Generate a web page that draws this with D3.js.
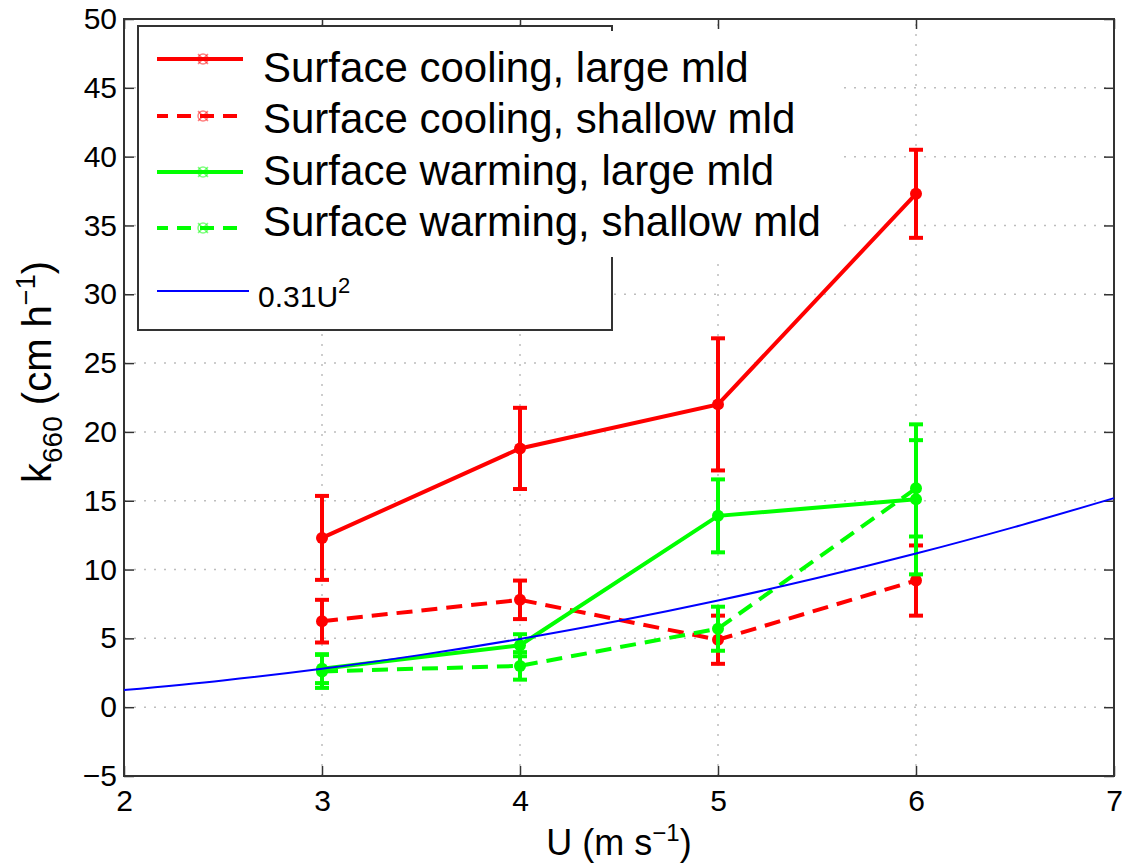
<!DOCTYPE html>
<html>
<head>
<meta charset="utf-8">
<script src="https://cdn.jsdelivr.net/npm/d3@7"></script>
<style>
  body { margin: 0; background: #fff; }
  text { font-family: "Liberation Sans", Arial, sans-serif; fill: #000; }
</style>
</head>
<body>
<div id="chart"></div>
<script>

// wind speed for the four experiments
var windSpeed = [3, 4, 5, 6];

var coolLarge = [12.3, 18.8, 22.0, 37.3];
var coolLargeErr = [3.05, 2.95, 4.8, 3.2];
var coolShallow = [6.25, 7.8, 4.9, 9.2];
var coolShallowErr = [1.55, 1.4, 1.75, 2.55];
var warmLarge = [2.8, 4.5, 13.9, 15.1];
var warmLargeErr = [1.05, 0.8, 2.65, 5.45];
var warmShallow = [2.6, 3.0, 5.7, 15.9];
var warmShallowErr = [1.2, 1.0, 1.6, 3.5];

// reference curve 0.31U^2
var curveU = [2, 2.5, 3, 3.5, 4, 4.5, 5, 5.5, 6, 6.5, 7];
var curveK = [1.24, 1.94, 2.79, 3.80, 4.96, 6.28, 7.75, 9.38, 11.16, 13.10, 15.19];

var xTicks = [2, 3, 4, 5, 6, 7];
var yTicks = [-5, 0, 5, 10, 15, 20, 25, 30, 35, 40, 45, 50];

var legendLabels = ["Surface cooling, large mld", "Surface cooling, shallow mld",
    "Surface warming, large mld", "Surface warming, shallow mld"];

var width = 1122, height = 865;
var plotLeft = 124, plotRight = 1114, plotTop = 19, plotBottom = 776;

var svg = d3.select("#chart").append("svg")
    .attr("width", width)
    .attr("height", height);

var x = d3.scaleLinear().domain([2, 7]).range([plotLeft, plotRight]);
var y = d3.scaleLinear().domain([-5, 50]).range([plotBottom, plotTop]);

// grid
var grid = svg.append("g").attr("class", "grid")
    .attr("stroke", "#bdbdbd")
    .attr("stroke-width", 1.5)
    .attr("stroke-dasharray", "2,8");
grid.selectAll("line.gx")
    .data(xTicks.slice(1, -1))
    .enter().append("line")
    .attr("x1", function (d) { return x(d); })
    .attr("x2", function (d) { return x(d); })
    .attr("y1", plotBottom)
    .attr("y2", plotTop);
grid.selectAll("line.gy")
    .data(yTicks.slice(1, -1))
    .enter().append("line")
    .attr("x1", plotLeft)
    .attr("x2", plotRight)
    .attr("y1", function (d) { return y(d); })
    .attr("y2", function (d) { return y(d); });

// axes, with inward ticks on all four sides
var fmt = function (d) { return d < 0 ? "\u2212" + Math.abs(d) : d; };
var axisStyle = function (g) {
    g.select(".domain").remove();
    g.selectAll(".tick line").attr("stroke", "#333").attr("stroke-width", 1.5);
    g.selectAll(".tick text").attr("font-size", 30).attr("fill", "#222")
        .attr("font-family", "Liberation Sans, Arial, sans-serif");
};

svg.append("g")
    .attr("transform", "translate(0," + plotBottom + ")")
    .call(d3.axisBottom(x).tickValues(xTicks).tickFormat(fmt).tickSizeInner(-10).tickPadding(14))
    .call(axisStyle);
svg.append("g")
    .attr("transform", "translate(0," + plotTop + ")")
    .call(d3.axisTop(x).tickValues(xTicks).tickFormat("").tickSizeInner(-10))
    .call(axisStyle);
svg.append("g")
    .attr("transform", "translate(" + plotLeft + ",0)")
    .call(d3.axisLeft(y).tickValues(yTicks).tickFormat(fmt).tickSizeInner(-10).tickPadding(7))
    .call(axisStyle);
svg.append("g")
    .attr("transform", "translate(" + plotRight + ",0)")
    .call(d3.axisRight(y).tickValues(yTicks).tickFormat("").tickSizeInner(-10))
    .call(axisStyle);

svg.append("rect")
    .attr("x", plotLeft)
    .attr("y", plotTop)
    .attr("width", plotRight - plotLeft)
    .attr("height", plotBottom - plotTop)
    .attr("fill", "none")
    .attr("stroke", "#333")
    .attr("stroke-width", 2);

// series
var series = [
    { values: coolLarge, err: coolLargeErr, color: "#ff0000", dash: null },
    { values: coolShallow, err: coolShallowErr, color: "#ff0000", dash: "16,9" },
    { values: warmLarge, err: warmLargeErr, color: "#00ff00", dash: null },
    { values: warmShallow, err: warmShallowErr, color: "#00ff00", dash: "16,9" }
];

var line = d3.line()
    .x(function (d) { return x(d[0]); })
    .y(function (d) { return y(d[1]); });

series.forEach(function (s) {
    var pts = windSpeed.map(function (u, i) { return [u, s.values[i], s.err[i]]; });
    var g = svg.append("g");

    g.append("path")
        .datum(pts)
        .attr("d", line)
        .attr("fill", "none")
        .attr("stroke", s.color)
        .attr("stroke-width", 4)
        .attr("stroke-dasharray", s.dash);

    var bars = g.selectAll("g.err")
        .data(pts)
        .enter().append("g")
        .attr("stroke", s.color)
        .attr("stroke-width", 4);
    bars.append("line")
        .attr("x1", function (d) { return x(d[0]); })
        .attr("x2", function (d) { return x(d[0]); })
        .attr("y1", function (d) { return y(d[1] - d[2]); })
        .attr("y2", function (d) { return y(d[1] + d[2]); });
    [-1, 1].forEach(function (sign) {
        bars.append("line")
            .attr("x1", function (d) { return x(d[0]) - 7; })
            .attr("x2", function (d) { return x(d[0]) + 7; })
            .attr("y1", function (d) { return y(d[1] + sign * d[2]); })
            .attr("y2", function (d) { return y(d[1] + sign * d[2]); });
    });

    g.selectAll("circle")
        .data(pts)
        .enter().append("circle")
        .attr("cx", function (d) { return x(d[0]); })
        .attr("cy", function (d) { return y(d[1]); })
        .attr("r", 6)
        .attr("fill", s.color);
});

// 0.31U^2 curve on top
svg.append("path")
    .datum(curveU.map(function (u, i) { return [u, curveK[i]]; }))
    .attr("d", line.curve(d3.curveCatmullRom))
    .attr("fill", "none")
    .attr("stroke", "#0000ff")
    .attr("stroke-width", 2);

// legend
var legend = svg.append("g").attr("class", "legend");
legend.append("rect")
    .attr("x", 138)
    .attr("y", 26)
    .attr("width", 474)
    .attr("height", 304)
    .attr("fill", "#fff")
    .attr("stroke", "#333")
    .attr("stroke-width", 2);

var lineYs = [59, 116, 172, 228];
var textYs = [82, 133, 185, 236];

// the labels are wider than the box, their white backing hides its edge
legend.append("rect")
    .attr("x", 258)
    .attr("y", 31)
    .attr("width", 585)
    .attr("height", 226)
    .attr("fill", "#fff");

series.forEach(function (s, i) {
    var ly = lineYs[i];
    legend.append("line")
        .attr("x1", 157).attr("x2", 243)
        .attr("y1", ly).attr("y2", ly)
        .attr("stroke", s.color)
        .attr("stroke-width", 4)
        .attr("stroke-dasharray", s.dash ? "14,9" : null)
        .attr("stroke-dashoffset", s.dash ? 3 : null);
    var m = legend.append("g")
        .attr("transform", "translate(203," + ly + ")")
        .attr("stroke", s.color)
        .attr("stroke-opacity", 0.5)
        .attr("stroke-width", 1.5);
    m.append("circle").attr("r", 5).attr("fill", "none");
    m.append("line").attr("x1", -5).attr("x2", 5).attr("y1", -5).attr("y2", 5);
    m.append("line").attr("x1", -5).attr("x2", 5).attr("y1", 5).attr("y2", -5);
    legend.append("text")
        .attr("x", 263)
        .attr("y", textYs[i])
        .attr("font-size", 42)
        .text(legendLabels[i]);
});

legend.append("line")
    .attr("x1", 157).attr("x2", 249)
    .attr("y1", 291).attr("y2", 291)
    .attr("stroke", "#0000ff")
    .attr("stroke-width", 2);
var curveLabel = legend.append("text")
    .attr("x", 258)
    .attr("y", 307)
    .attr("font-size", 30)
    .attr("fill", "#222");
curveLabel.append("tspan").text("0.31U");
curveLabel.append("tspan").attr("dy", -14).attr("font-size", 22).text("2");

// axis labels
var xl = svg.append("text")
    .attr("x", 619)
    .attr("y", 855)
    .attr("text-anchor", "middle")
    .attr("font-size", 36)
    .attr("fill", "#222");
xl.append("tspan").text("U (m s");
xl.append("tspan").attr("dy", -14).attr("font-size", 24).text("\u22121");
xl.append("tspan").attr("dy", 14).text(")");

var yl = svg.append("text")
    .attr("transform", "translate(51,372) rotate(-90)")
    .attr("text-anchor", "middle")
    .attr("font-size", 40)
    .attr("fill", "#222");
yl.append("tspan").text("k");
yl.append("tspan").attr("dy", 11).attr("font-size", 28).text("660");
yl.append("tspan").attr("dy", -11).text(" (cm h");
yl.append("tspan").attr("dy", -16).attr("font-size", 27).text("\u22121");
yl.append("tspan").attr("dy", 16).text(")");

</script>
</body>
</html>
